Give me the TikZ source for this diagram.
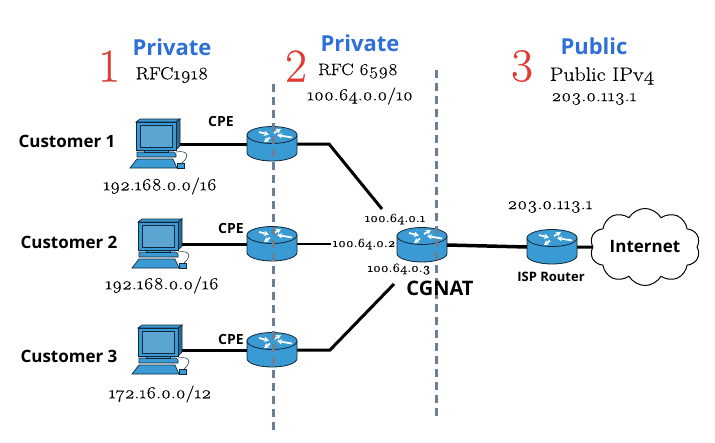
\documentclass[tikz,border=0pt]{standalone}
\usepackage{fontspec}
\setmainfont{Latin Modern Roman}[Numbers=OldStyle,FakeBold=0.35,FakeStretch=1.12]
\newfontfamily\numfont{Latin Modern Roman}[FakeBold=0.5]
\setsansfont{Open Sans}
\definecolor{mNetBlue}{HTML}{3A9AD4}
\definecolor{mScreen}{HTML}{5AA5D2}
\definecolor{mInk}{HTML}{12283A}
\definecolor{mTitle}{HTML}{2F6FD8}
\definecolor{mNum}{HTML}{E03A35}
\definecolor{mDash}{HTML}{6C7F93}
\usetikzlibrary{positioning,arrows.meta,calc,shapes.symbols}
\tikzset{
 sizebox/.style={inner sep=0pt, outer sep=0pt, minimum width=#1},
 titlelbl/.style={font=\sffamily\bfseries\fontsize{22}{22}\selectfont, text=mTitle, inner sep=0pt},
 numlbl/.style={font=\numfont\fontsize{47}{47}\selectfont, text=mNum, inner sep=0pt},
 rfclbl/.style={font=\fontsize{#1}{#1}\selectfont, text=black, inner sep=0pt},
 addrlbl/.style={font=\fontsize{17}{17}\selectfont, text=black, inner sep=0pt},
 smalllbl/.style={font=\fontsize{12.5}{12.5}\selectfont, text=black, inner sep=0pt},
 custlbl/.style={font=\sffamily\bfseries\fontsize{17}{17}\selectfont, text=black, inner sep=0pt},
 cpelbl/.style={font=\sffamily\bfseries\fontsize{14}{14}\selectfont, text=black, inner sep=0pt},
 wire/.style={draw=black, line width=3pt},
 wirethin/.style={draw=black, line width=2pt},
 dashline/.style={draw=mDash, line width=3pt, dash pattern=on 8pt off 5pt},
 rtrarrow/.style={-{Stealth[length=5pt,width=5.5pt]}, white, line width=1.8pt},
}
\newcommand{\rtrnode}[3]{%
\node[sizebox=50pt, minimum height=34pt] (#3) at (#1,#2) {};
\begin{scope}[shift={(#1,#2)}]
\draw[fill=mNetBlue, draw=mInk, line width=0.8pt] (-25,-9) -- (-25,8.5) arc[start angle=180, end angle=0, x radius=25, y radius=8.5] -- (25,-9) -- cycle;
\draw[fill=mNetBlue, draw=mInk, line width=0.8pt] (0,-9) ellipse[x radius=25, y radius=8.5];
\draw[rtrarrow] (-13,-12) -- (-3,-9.5);
\draw[rtrarrow] (2,-11) -- (9,-15);
\draw[rtrarrow] (-2,-6.5) -- (-8,-2);
\draw[rtrarrow] (20,-6.5) -- (5,-9);
\end{scope}}
\newcommand{\pcnode}[3]{%
\node[sizebox=44pt, minimum height=50pt] (#3) at (#1,#2) {};
\begin{scope}[shift={(#1,#2)}, draw=mInk, line width=0.7pt]
\draw[fill=mNetBlue] (-22,-22) -- (-18,-25) -- (22,-25) -- (18,-22) -- cycle;
\draw[fill=mNetBlue!70!black] (18,-22) -- (22,-25) -- (22,2) -- (18,6) -- cycle;
\draw[fill=mNetBlue, line width=1pt] (-22,-22) rectangle (18,6);
\draw[fill=mScreen, line width=1pt] (-18,-19) rectangle (14,3);
\draw[fill=mNetBlue] (-21,8) -- (16,8) -- (18,10) -- (18,13) -- (-21,13) -- cycle;
\draw[fill=mNetBlue] (-14,6) rectangle (10,8);
\draw[fill=mNetBlue] (-28,24) -- (-21,15) -- (15,15) -- (19,24) -- cycle;
\draw[fill=mNetBlue] (19,19) rectangle (26,24);
\draw[line width=0.5pt] (18,8) .. controls (30,6) and (32,12) .. (24,19);
\end{scope}}

\begin{document}
\begin{tikzpicture}[x=1pt,y=-1pt]
\useasboundingbox (0,0) rectangle (715,442);
% wires first, the boxes sit on top
\node[sizebox=1pt] (r1) at (272,144) {};
\node[sizebox=1pt] (r2) at (272,244) {};
\node[sizebox=1pt] (r3) at (272,350) {};
\coordinate (kneeA) at (329,144);
\coordinate (kneeC) at (330,350);
\coordinate (endA) at (382,209);
\coordinate (endB) at (331,244);
\coordinate (endC) at (394,284);
\draw[wire] (r1) -- (kneeA) -- (endA);
\draw[wirethin] (r2) -- (endB);
\draw[wire] (r3) -- (kneeC) -- (endC);
\pcnode{158}{144}{pc1}
\pcnode{160}{244}{pc2}
\pcnode{160}{350}{pc3}
\rtrnode{272}{144}{rtr1}
\rtrnode{272}{244}{rtr2}
\rtrnode{272}{350}{rtr3}
\rtrnode{422}{245}{cg}
\rtrnode{552}{247}{isp}
\node[cloud, draw=black, fill=white, line width=1pt, cloud puffs=10, cloud puff arc=120, aspect=1.6, minimum width=110pt, minimum height=68pt, inner sep=0pt, font=\sffamily\bfseries\fontsize{17}{17}\selectfont] (inet) at (645,247) {Internet};
\draw[wire] (pc1.east) -- (rtr1.west);
\draw[wire] (pc2.east) -- (rtr2.west);
\draw[wire] (pc3.east) -- (rtr3.west);
\draw[draw=black, line width=3.5pt] (cg.east) -- (isp.west);
\draw[wire] (isp.east) -- (inet.west);
\coordinate (dashAtop) at (273,84);
\coordinate (dashAbot) at (273,432);
\coordinate (dashBtop) at (436,70);
\coordinate (dashBbot) at (436,420);
\draw[dashline] (dashAtop) -- (dashAbot);
\draw[dashline] (dashBtop) -- (dashBbot);
\node[titlelbl] (priv1) at (172,47) {Private};
\node[titlelbl] (priv2) at (360,43) {Private};
\node[titlelbl] (pub3) at (594,46) {Public};
\node[numlbl] (n1) at (109,66) {1};
\node[numlbl] (n2) at (296,66) {2};
\node[numlbl] (n3) at (522,66) {3};
\node[rfclbl=17.5] (rfc1) at (172,75) {RFC1918};
\node[rfclbl=16.5] (rfc2) at (358,71) {RFC 6598};
\node[addrlbl] (shared) at (360,96) {100.64.0.0/10};
\node[rfclbl=19.5] (pubv4) at (602,76) {Public IPv4};
\node[addrlbl] (pubip) at (594,99) {203.0.113.1};
\node[custlbl] (c1) at (67,141) {Customer 1};
\node[custlbl] (c2) at (69,242) {Customer 2};
\node[custlbl] (c3) at (69,356) {Customer 3};
\node[cpelbl] (cpe1) at (221,121) {CPE};
\node[cpelbl] (cpe2) at (231,228) {CPE};
\node[cpelbl] (cpe3) at (231,339) {CPE};
\node[addrlbl] (a1) at (160,186) {192.168.0.0/16};
\node[addrlbl] (a2) at (162,285) {192.168.0.0/16};
\node[addrlbl] (a3) at (160,394) {172.16.0.0/12};
\node[smalllbl] (g1) at (395,219) {100.64.0.1};
\node[smalllbl] (g2) at (364,244) {100.64.0.2};
\node[smalllbl] (g3) at (399,269) {100.64.0.3};
\node[custlbl, font=\sffamily\bfseries\fontsize{20}{20}\selectfont] (cgn) at (440,288) {CGNAT};
\node[addrlbl] (ispip) at (550,207) {203.0.113.1};
\node[cpelbl, font=\sffamily\bfseries\fontsize{13}{13}\selectfont] (isplbl) at (551,277) {ISP Router};
\end{tikzpicture}
\end{document}
